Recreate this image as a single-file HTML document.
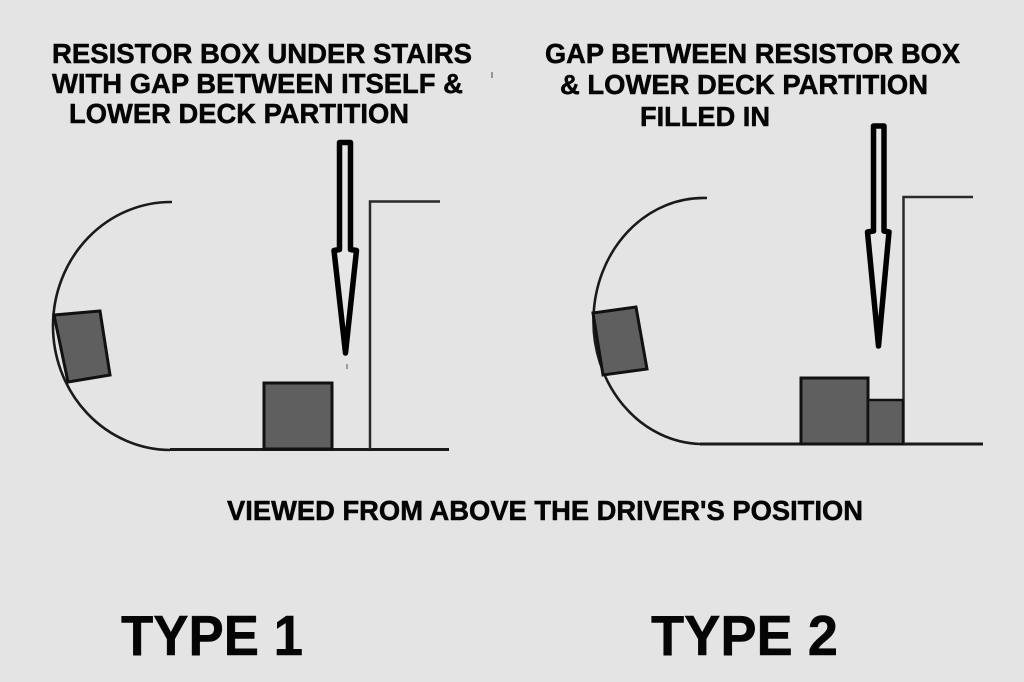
<!DOCTYPE html>
<html>
<head>
<meta charset="utf-8">
<style>
  html, body { margin:0; padding:0; background:#e4e4e4; }
  body { width:1024px; height:682px; overflow:hidden; }
  svg { display:block; }
  text { font-family: "Liberation Sans", Arial, sans-serif; font-weight:bold; fill:#050505; stroke:#050505; stroke-width:0.5; }
</style>
</head>
<body>
<svg width="1024" height="682" viewBox="0 0 1024 682" xmlns="http://www.w3.org/2000/svg">
  <rect x="0" y="0" width="1024" height="682" fill="#e4e4e4"/>

  <!-- Left title -->
  <text x="52" y="63" font-size="27.5" textLength="420" lengthAdjust="spacingAndGlyphs">RESISTOR BOX UNDER STAIRS</text>
  <text x="52" y="93" font-size="27.5" textLength="411" lengthAdjust="spacingAndGlyphs">WITH GAP BETWEEN ITSELF &amp;</text>
  <text x="69" y="123" font-size="27.5" textLength="340" lengthAdjust="spacingAndGlyphs">LOWER DECK PARTITION</text>
  <line x1="492" y1="72" x2="492" y2="78" stroke="#444" stroke-width="1"/>

  <!-- Right title -->
  <text x="545" y="63" font-size="27.5" textLength="415" lengthAdjust="spacingAndGlyphs">GAP BETWEEN RESISTOR BOX</text>
  <text x="560" y="94" font-size="27.5" textLength="368" lengthAdjust="spacingAndGlyphs">&amp; LOWER DECK PARTITION</text>
  <text x="640" y="126" font-size="27.5" textLength="130" lengthAdjust="spacingAndGlyphs">FILLED IN</text>

  <!-- ============ TYPE 1 diagram ============ -->
  <path d="M172,202 A118,124 0 0 0 170,450" fill="none" stroke="#1a1a1a" stroke-width="2.6"/>
  <line x1="170" y1="449.5" x2="449" y2="449.5" stroke="#1a1a1a" stroke-width="3"/>
  <polyline points="370,449 370,201.5 440,201.5" fill="none" stroke="#2a2a2a" stroke-width="2.5"/>
  <polygon points="54,315 100,311 110,375 68,382" fill="#5f5f5f" stroke="#111" stroke-width="3"/>
  <rect x="264" y="383" width="68" height="66" fill="#5f5f5f" stroke="#111" stroke-width="3"/>
  <polygon points="339.5,142.5 350.5,142.5 350.5,249.5 356.5,250.5 345.5,353 334,250.5 339.5,249.5" fill="#e6e6e6" stroke="#000" stroke-width="5.5" stroke-linejoin="round"/>
  <line x1="347" y1="364" x2="347" y2="369" stroke="#555" stroke-width="1"/>

  <!-- ============ TYPE 2 diagram ============ -->
  <path d="M707,198 A110,123 0 0 0 700,444" fill="none" stroke="#1a1a1a" stroke-width="2.6"/>
  <line x1="700" y1="444" x2="983" y2="444" stroke="#1a1a1a" stroke-width="3"/>
  <polyline points="903.5,444 903.5,197 973,197" fill="none" stroke="#2a2a2a" stroke-width="2.5"/>
  <polygon points="593,313 636,307 647,369 603,375" fill="#5f5f5f" stroke="#111" stroke-width="3"/>
  <rect x="801" y="378" width="67" height="66" fill="#5f5f5f" stroke="#111" stroke-width="3"/>
  <rect x="868" y="400" width="35" height="44" fill="#5f5f5f" stroke="#111" stroke-width="2.5"/>
  <polygon points="873.5,126 884,126 884,231 889,232 878.5,346 867.5,232 873.5,231" fill="#e6e6e6" stroke="#000" stroke-width="5.5" stroke-linejoin="round"/>

  <!-- Caption -->
  <text x="227" y="520" font-size="27.5" textLength="636" lengthAdjust="spacingAndGlyphs">VIEWED FROM ABOVE THE DRIVER'S POSITION</text>

  <!-- Type labels -->
  <text x="121" y="655" font-size="57" textLength="182" lengthAdjust="spacingAndGlyphs" stroke-width="0.8">TYPE 1</text>
  <text x="651" y="655" font-size="57" textLength="187" lengthAdjust="spacingAndGlyphs" stroke-width="0.8">TYPE 2</text>
</svg>
</body>
</html>
